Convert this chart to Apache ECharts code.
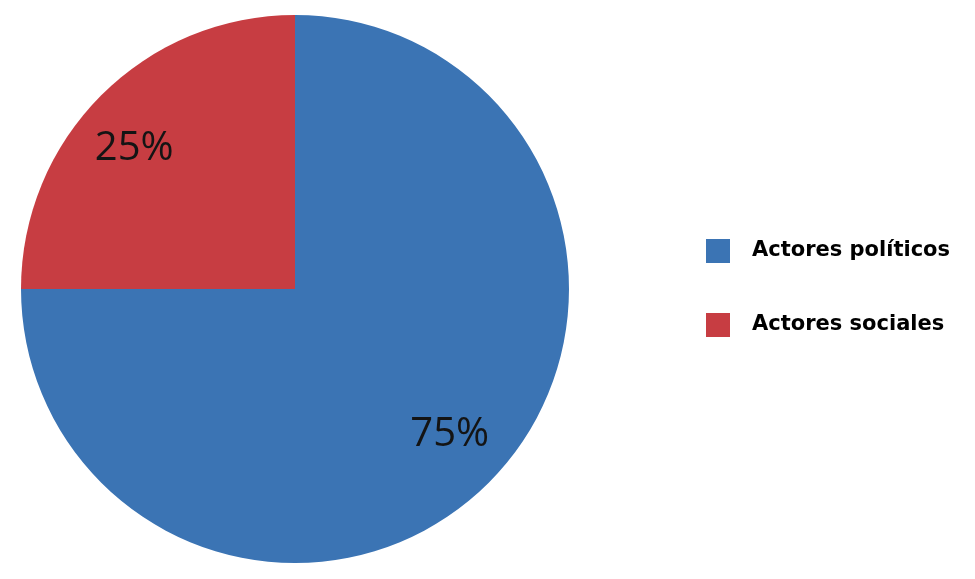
<!DOCTYPE html>
<html>
<head>
<meta charset="utf-8">
<script src="https://cdn.jsdelivr.net/npm/echarts@6/dist/echarts.min.js"></script>
<style>
  html, body { margin: 0; padding: 0; background: #fff; }
  #main { width: 975px; height: 579px; }
</style>
</head>
<body>
<div id="main"></div>
<script>
var names = ['Actores políticos', 'Actores sociales'];
var values = [75, 25];
var colors = ['#3b74b4', '#c73d42'];
// small nudges so the percent labels sit where the original put them
var labelOffsets = [[2, -7], [-8, 12]];

var pieData = names.map(function (n, i) {
  return { name: n, value: values[i], itemStyle: { color: colors[i] } };
});

var chart = echarts.init(document.getElementById('main'));
chart.setOption({
  animation: false,
  legend: {
    orient: 'vertical',
    left: 701,
    top: 234,
    icon: 'rect',
    itemWidth: 24,
    itemHeight: 24,
    itemGap: 50,
    data: names,
    textStyle: {
      fontFamily: 'DejaVu Sans, sans-serif',
      fontWeight: 'bold',
      fontSize: 21,
      color: '#000',
      padding: [0, 0, 0, 17]
    },
    selectedMode: false
  },
  series: [
    {
      // the pie itself
      type: 'pie',
      center: [295, 289],
      radius: [0, 274],
      startAngle: 90,
      clockwise: true,
      data: pieData,
      label: { show: false },
      labelLine: { show: false },
      emphasis: { disabled: true },
      silent: true
    },
    {
      // invisible ring that only carries the percent labels further out
      type: 'pie',
      center: [295, 289],
      radius: [152, 274],
      startAngle: 90,
      clockwise: true,
      data: names.map(function (n, i) {
        return {
          name: n,
          value: values[i],
          itemStyle: { color: 'rgba(0,0,0,0)' },
          label: { offset: labelOffsets[i] }
        };
      }),
      label: {
        show: true,
        position: 'inside',
        formatter: '{c}%',
        fontFamily: 'Open Sans, sans-serif',
        fontSize: 40,
        color: '#141414'
      },
      labelLine: { show: false },
      emphasis: { disabled: true },
      silent: true
    }
  ]
});
</script>
</body>
</html>
